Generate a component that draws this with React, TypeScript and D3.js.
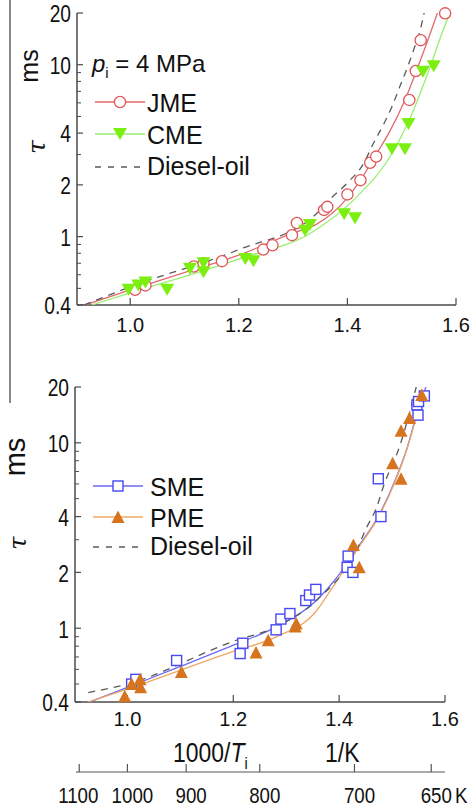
import React from "react";
import * as d3 from "d3";

type Pt = [number, number];

// ---------- tick values ----------
const xTickVals = [1.0, 1.2, 1.4, 1.6];
const yMajorTicks = [0.4, 1, 2, 4, 10, 20];
const yMinorTicks = [0.5, 0.6, 0.7, 0.8, 0.9, 3, 5, 6, 7, 8, 9];
const tempLabels = ["1100", "1000", "900", "800", "700", "650"];
const tempTickPos = [0.909, 1.0, 1.111, 1.25, 1.429, 1.574];

// ---------- top panel (p_i = 4 MPa) ----------
const jmePoints: Pt[] = [
  [1.009, 0.49], [1.028, 0.52], [1.117, 0.67], [1.135, 0.7], [1.169, 0.72],
  [1.245, 0.84], [1.262, 0.89], [1.298, 1.02], [1.307, 1.2], [1.357, 1.43],
  [1.363, 1.49], [1.4, 1.76], [1.424, 2.13], [1.442, 2.69], [1.453, 2.92],
  [1.514, 6.24], [1.526, 9.2], [1.535, 13.9], [1.58, 19.9],
];
const cmePoints: Pt[] = [
  [0.997, 0.49], [1.015, 0.52], [1.028, 0.54], [1.068, 0.49], [1.11, 0.65],
  [1.135, 0.7], [1.135, 0.62], [1.212, 0.74], [1.227, 0.72], [1.322, 1.08],
  [1.331, 1.17], [1.394, 1.35], [1.414, 1.28], [1.482, 3.22], [1.506, 3.22],
  [1.5125, 4.52], [1.539, 9.1], [1.559, 9.8],
];
const jmeCurve: Pt[] = [
  [0.917, 0.4], [1.0, 0.49], [1.101, 0.62], [1.2, 0.78], [1.3, 1.05],
  [1.341, 1.17], [1.402, 1.71], [1.424, 2.13], [1.454, 3.05], [1.476, 3.99],
  [1.506, 6.24], [1.53, 9.74], [1.5525, 15.2], [1.567, 20.5],
];
const cmeCurve: Pt[] = [
  [0.929, 0.4], [1.0, 0.47], [1.2, 0.74], [1.341, 1.09], [1.411, 1.63],
  [1.486, 3.19], [1.511, 4.56], [1.5525, 9.74], [1.574, 15.2], [1.594, 21.8],
];
const dieselTopCurve: Pt[] = [
  [0.915, 0.4], [1.0, 0.51], [1.2, 0.84], [1.341, 1.34], [1.368, 1.65],
  [1.399, 2.04], [1.43, 2.67], [1.448, 3.49], [1.466, 4.46], [1.482, 5.7],
  [1.496, 7.39], [1.511, 9.74], [1.522, 12.2], [1.534, 15.9], [1.542, 20.5],
];

// ---------- bottom panel ----------
const smePoints: Pt[] = [
  [1.008, 0.5], [1.016, 0.53], [1.093, 0.67], [1.213, 0.73], [1.218, 0.83],
  [1.281, 0.98], [1.29, 1.12], [1.307, 1.2], [1.337, 1.41], [1.344, 1.51],
  [1.356, 1.62], [1.415, 2.13], [1.417, 2.45], [1.426, 2.0], [1.474, 6.4],
  [1.479, 4.0], [1.547, 16.0], [1.549, 14.1], [1.55, 16.7], [1.561, 17.9],
];
const pmePoints: Pt[] = [
  [0.995, 0.43], [1.008, 0.5], [1.024, 0.53], [1.025, 0.48], [1.102, 0.58],
  [1.243, 0.74], [1.266, 0.86], [1.317, 1.02], [1.319, 1.06], [1.427, 2.81],
  [1.438, 2.13], [1.501, 7.75], [1.517, 6.4], [1.517, 11.6], [1.533, 13.6],
  [1.556, 18.1],
];
const smeCurve: Pt[] = [
  [0.929, 0.4], [1.0, 0.48], [1.099, 0.62], [1.2, 0.81], [1.282, 1.02],
  [1.358, 1.42], [1.392, 1.82], [1.436, 2.75], [1.477, 4.16], [1.506, 6.3],
  [1.529, 9.5], [1.547, 14.4], [1.569, 21.9],
];
const pmeCurve: Pt[] = [
  [0.925, 0.4], [1.0, 0.47], [1.2, 0.75], [1.282, 0.9], [1.358, 1.25],
  [1.38, 1.54], [1.436, 2.7], [1.477, 4.1], [1.506, 6.2], [1.529, 9.4],
  [1.547, 14.2],
];
const dieselBottomCurve: Pt[] = [
  [0.926, 0.45], [1.0, 0.5], [1.2, 0.85], [1.282, 1.02], [1.358, 1.42],
  [1.433, 2.64], [1.452, 3.5], [1.471, 4.5], [1.4835, 5.8], [1.515, 9.7],
  [1.547, 20.7],
];

const FONT = "'Liberation Sans', Arial, Helvetica, sans-serif";
const AXIS = "#4a4a4a";

const topX = d3.scaleLinear().domain([0.902, 1.6]).range([77, 456]);
const topY = d3.scaleLog().domain([0.4, 20]).range([305, 13]);
const botX = d3.scaleLinear().domain([0.901, 1.6]).range([75, 445]);
const botY = d3.scaleLog().domain([0.4, 20]).range([702, 387]);

type Kind = "circle" | "down" | "square" | "up";

function Marker({ kind, x, y, color }: { kind: Kind; x: number; y: number; color: string }) {
  if (kind === "circle")
    return <circle cx={x} cy={y} r={5.6} fill="white" stroke={color} strokeWidth={1.3} />;
  if (kind === "square")
    return <rect x={x - 5} y={y - 5} width={10} height={10} fill="white" stroke={color} strokeWidth={1.4} />;
  if (kind === "down")
    return <path d={`M${x},${y + 6}L${x + 7},${y - 6}L${x - 7},${y - 6}Z`} fill={color} />;
  return <path d={`M${x},${y - 6.5}L${x + 6.5},${y + 6}L${x - 6.5},${y + 6}Z`} fill={color} />;
}

interface Series {
  points: Pt[];
  curve: Pt[];
  kind: Kind;
  color: string;
  lineColor: string;
  name: string;
}

function Panel({
  id, xs, ys, series, diesel, xLabelBaseline, legendY, legendX0, legendX1, legendTextX,
}: {
  id: string;
  xs: d3.ScaleLinear<number, number>;
  ys: d3.ScaleLogarithmic<number, number>;
  series: Series[];
  diesel: Pt[];
  xLabelBaseline: number;
  legendY: number[];
  legendX0: number;
  legendX1: number;
  legendTextX: number;
}) {
  const [x0, x1] = xs.range();
  const [yb, yt] = ys.range();
  const line = d3
    .line<Pt>()
    .x((d) => xs(d[0]))
    .y((d) => ys(d[1]))
    .curve(d3.curveMonotoneX);
  const mid = (legendX0 + legendX1) / 2;
  return (
    <g>
      <defs>
        <clipPath id={id}>
          <rect x={x0} y={yt} width={x1 - x0 + 2} height={yb - yt} />
        </clipPath>
      </defs>
      <line x1={x0} x2={x0} y1={yt} y2={yb} stroke={AXIS} strokeWidth={1.5} />
      <line x1={x0} x2={x1} y1={yb} y2={yb} stroke={AXIS} strokeWidth={1.5} />
      {yMajorTicks.map((v) => (
        <g key={"ym" + v}>
          <line x1={x0} x2={x0 + 6} y1={ys(v)} y2={ys(v)} stroke={AXIS} strokeWidth={1.2} />
          <text
            transform={`translate(${x0 - 6},${ys(v) + 1}) scale(0.8,1)`}
            textAnchor="end"
            dominantBaseline="central"
            fontSize={24}
            fontFamily={FONT}
            fill="#111"
          >
            {String(v)}
          </text>
        </g>
      ))}
      {yMinorTicks.map((v) => (
        <line key={"yn" + v} x1={x0} x2={x0 + 4} y1={ys(v)} y2={ys(v)} stroke={AXIS} strokeWidth={1} />
      ))}
      {xTickVals.map((v) => (
        <g key={"xt" + v}>
          <line x1={xs(v)} x2={xs(v)} y1={yb} y2={yb - 7} stroke={AXIS} strokeWidth={1.2} />
          <text x={xs(v)} y={xLabelBaseline} textAnchor="middle" fontSize={20} fontFamily={FONT} fill="#111">
            {v.toFixed(1)}
          </text>
        </g>
      ))}
      <g clipPath={`url(#${id})`}>
        {series.map((s) => (
          <path key={"c" + s.name} d={line(s.curve) || ""} fill="none" stroke={s.lineColor} strokeWidth={1.3} />
        ))}
        <path d={line(diesel) || ""} fill="none" stroke="#5a5a5a" strokeWidth={1.3} strokeDasharray="7,6" />
      </g>
      {series.map((s) => (
        <g key={"m" + s.name}>
          {s.points.map((p, i) => (
            <Marker key={i} kind={s.kind} x={xs(p[0])} y={ys(p[1])} color={s.color} />
          ))}
        </g>
      ))}
      {series.map((s, i) => (
        <g key={"l" + s.name}>
          <line x1={legendX0} x2={legendX1} y1={legendY[i]} y2={legendY[i]} stroke={s.lineColor} strokeWidth={1.3} />
          <Marker kind={s.kind} x={mid} y={legendY[i]} color={s.color} />
          <text x={legendTextX} y={legendY[i] + 10} fontSize={25} fontFamily={FONT} fill="#111">
            {s.name}
          </text>
        </g>
      ))}
      <line
        x1={legendX0}
        x2={legendX1}
        y1={legendY[2]}
        y2={legendY[2]}
        stroke="#5a5a5a"
        strokeWidth={1.3}
        strokeDasharray="6,7"
      />
      <text x={legendTextX} y={legendY[2] + 8} fontSize={25} fontFamily={FONT} fill="#111">
        Diesel-oil
      </text>
    </g>
  );
}

export default function App() {
  const topSeries: Series[] = [
    { name: "JME", points: jmePoints, curve: jmeCurve, kind: "circle", color: "#e25555", lineColor: "#e26a6a" },
    { name: "CME", points: cmePoints, curve: cmeCurve, kind: "down", color: "#7aef10", lineColor: "#98ee70" },
  ];
  const botSeries: Series[] = [
    { name: "SME", points: smePoints, curve: smeCurve, kind: "square", color: "#4848f5", lineColor: "#6a6af5" },
    { name: "PME", points: pmePoints, curve: pmeCurve, kind: "up", color: "#d7741f", lineColor: "#f0a860" },
  ];
  return (
    <svg
      width={475}
      height={811}
      viewBox="0 0 475 811"
      style={{ position: "absolute", left: 0, top: 0, background: "white" }}
    >
      <rect x={0} y={0} width={475} height={811} fill="white" />
      <line x1={10} x2={10} y1={0} y2={403} stroke="#888" strokeWidth={2} />

      <Panel
        id="clipTop"
        xs={topX}
        ys={topY}
        series={topSeries}
        diesel={dieselTopCurve}
        xLabelBaseline={332}
        legendY={[102, 134, 167]}
        legendX0={95}
        legendX1={145}
        legendTextX={147}
      />
      <text x={92} y={72} fontSize={24} fontFamily={FONT} fill="#111">
        <tspan fontStyle="italic">p</tspan>
        <tspan fontSize={15} dy={6}>i</tspan>
        <tspan dy={-6}> = 4 MPa</tspan>
      </text>
      <text transform="translate(38,66) rotate(-90)" textAnchor="middle" fontSize={25} fontFamily={FONT} fill="#111">
        ms
      </text>
      <text
        transform="translate(45,147) rotate(-90)"
        textAnchor="middle"
        fontSize={25}
        fontStyle="italic"
        fontFamily="'DejaVu Serif', serif"
        fill="#111"
      >
        τ
      </text>

      <Panel
        id="clipBot"
        xs={botX}
        ys={botY}
        series={botSeries}
        diesel={dieselBottomCurve}
        xLabelBaseline={726}
        legendY={[486, 517, 547]}
        legendX0={93}
        legendX1={143}
        legendTextX={150}
      />
      <text transform="translate(25,457) rotate(-90)" textAnchor="middle" fontSize={29} fontFamily={FONT} fill="#111">
        ms
      </text>
      <text
        transform="translate(26,543) rotate(-90)"
        textAnchor="middle"
        fontSize={24}
        fontStyle="italic"
        fontFamily="'DejaVu Serif', serif"
        fill="#111"
      >
        τ
      </text>

      <text transform="translate(173,762) scale(0.85,1)" fontSize={27} fontFamily={FONT} fill="#111">
        1000/<tspan fontStyle="italic">T</tspan>
        <tspan fontSize={17} dy={7}>i</tspan>
      </text>
      <text transform="translate(325,762) scale(0.85,1)" fontSize={27} fontFamily={FONT} fill="#111">
        1/K
      </text>

      <line x1={76} x2={445} y1={772} y2={772} stroke="#555" strokeWidth={1.2} />
      {tempTickPos.map((v, i) => (
        <g key={"tk" + i}>
          <line x1={botX(v)} x2={botX(v)} y1={772} y2={764} stroke="#555" strokeWidth={1.2} />
          <text
            transform={`translate(${botX(v) + (i === 0 ? -1 : 5)},803) scale(0.85,1)`}
            textAnchor="middle"
            fontSize={22}
            fontFamily={FONT}
            fill="#111"
          >
            {tempLabels[i]}
          </text>
        </g>
      ))}
      <text transform="translate(455,803) scale(0.85,1)" fontSize={22} fontFamily={FONT} fill="#111">
        K
      </text>
    </svg>
  );
}
